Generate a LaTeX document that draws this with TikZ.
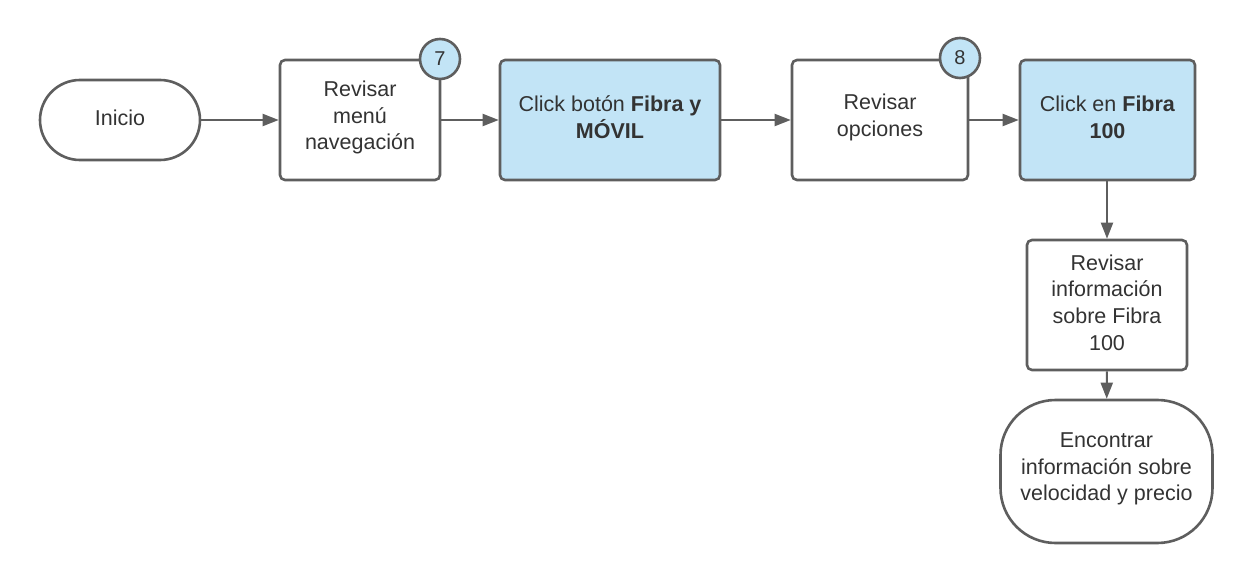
\documentclass[tikz,border=0pt]{standalone}
\usepackage{fontspec}
\setmainfont{Liberation Sans}
\usetikzlibrary{arrows.meta}
\definecolor{edge}{HTML}{5E5E5E}
\definecolor{ink}{HTML}{333333}
\definecolor{blue}{HTML}{C2E4F6}
\tikzset{
  base/.style={draw=edge, line width=2.6pt, inner sep=0pt},
  txt/.style={text=ink, align=center, inner sep=0pt, yshift=2.5pt,
    font=\fontsize{21.5}{26.7}\selectfont},
  proc/.style={base, rectangle, rounded corners=5pt, fill=white},
  hl/.style={proc, fill=blue},
  term/.style={base, rectangle, rounded corners=40pt, fill=white},
  badge/.style={base, circle, fill=blue, minimum size=40pt, text=ink, font=\fontsize{20}{24}\selectfont},
  conn/.style={draw=edge, line width=2pt, -{Triangle[length=16pt,width=12pt]}}
}
\begin{document}
\begin{tikzpicture}[x=1pt,y=-1pt]
\useasboundingbox (0,0) rectangle (1254,583);
\node[term, minimum width=160pt, minimum height=80pt,
  label={[txt]center:Inicio}] (inicio) at (120,120) {};
\node[proc, minimum width=160pt, minimum height=120pt,
  label={[txt]center:{Revisar\\menú\\navegación}}] (menu) at (360,120) {};
\node[badge] (b7) at (440,59) {7};
\node[hl, minimum width=220pt, minimum height=120pt,
  label={[txt]center:{Click botón \textbf{Fibra y}\\\textbf{MÓVIL}}}] (click1) at (610,120) {};
\node[proc, minimum width=176pt, minimum height=120pt,
  label={[txt]center:{Revisar\\opciones}}] (opc) at (880,120) {};
\node[badge] (b8) at (960,58) {8};
\node[hl, minimum width=175pt, minimum height=120pt,
  label={[txt]center:{Click en \textbf{Fibra}\\\textbf{100}}}] (click2) at (1107.5,120) {};
\node[proc, minimum width=160pt, minimum height=130pt,
  label={[txt]center:{Revisar\\información\\sobre Fibra\\100}}] (info) at (1107,305) {};
\node[term, rounded corners=55pt, minimum width=212pt, minimum height=143pt,
  label={[txt]center:{Encontrar\\información sobre\\velocidad y precio}}] (fin) at (1106.5,471.5) {};
\draw[conn] (inicio) -- (menu);
\draw[conn] (menu) -- (click1);
\draw[conn] (click1) -- (opc);
\draw[conn] (opc) -- (click2);
\draw[conn] (click2.south -| info.north) -- (info.north);
\draw[conn] (info) -- (fin);
\end{tikzpicture}
\end{document}
